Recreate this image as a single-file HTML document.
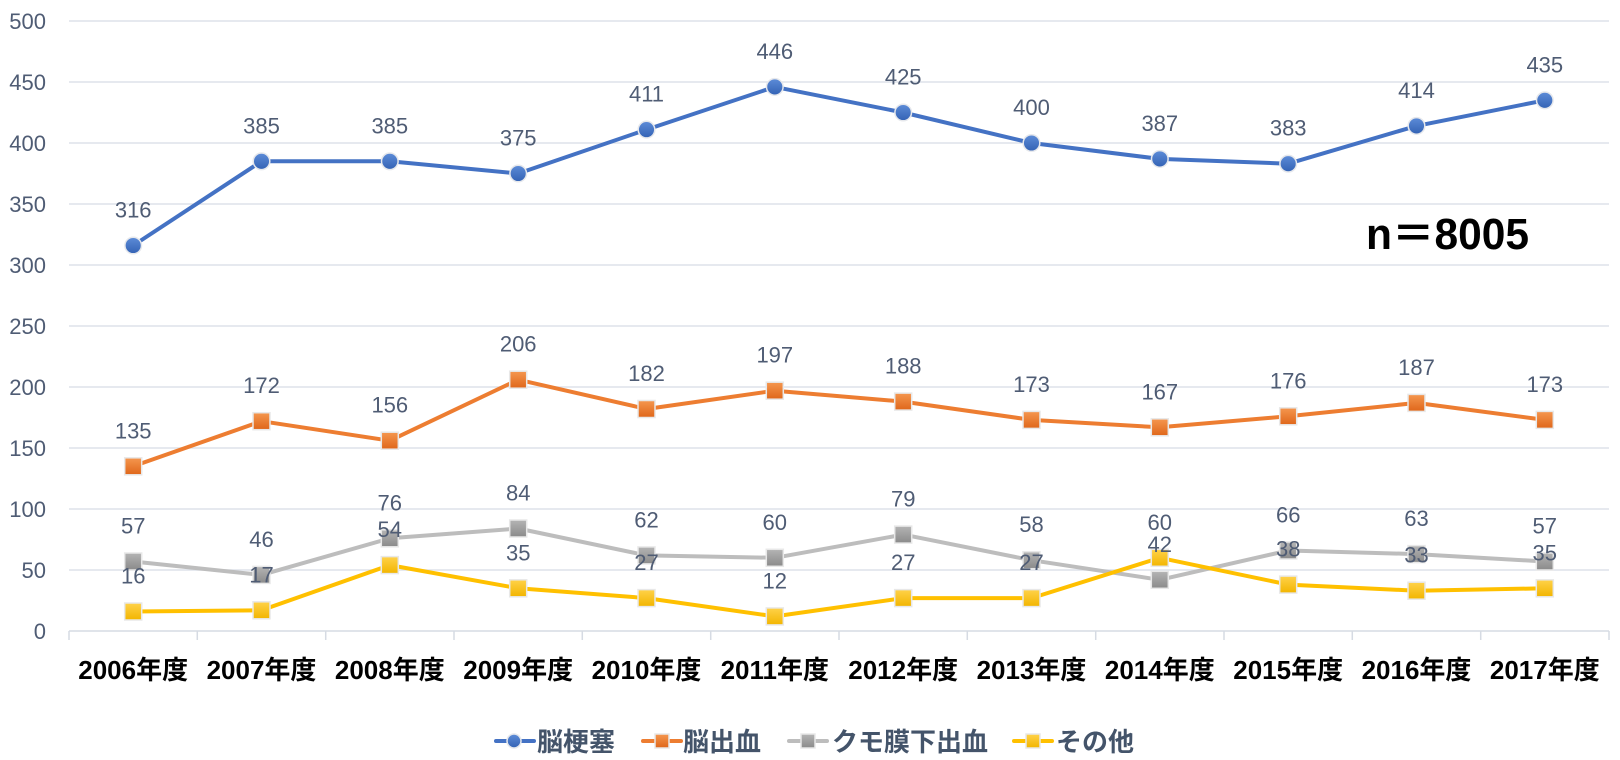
<!DOCTYPE html>
<html>
<head>
<meta charset="utf-8">
<style>
  html,body{margin:0;padding:0;background:#fff;}
  svg{display:block;}
  .yl{font-family:"Liberation Sans","Noto Sans CJK JP",sans-serif;font-size:22px;fill:#4f5c74;}
  .dl{font-family:"Liberation Sans","Noto Sans CJK JP",sans-serif;font-size:22px;fill:#4f5c74;text-anchor:middle;}
  .xl{font-family:"Liberation Sans","Noto Sans CJK JP",sans-serif;font-size:26px;font-weight:bold;fill:#000;text-anchor:middle;}
  .lg{font-family:"Liberation Sans","Noto Sans CJK JP",sans-serif;font-size:26px;font-weight:bold;fill:#44546a;}
  .nn{font-family:"Liberation Sans","Noto Sans CJK JP",sans-serif;font-size:44px;font-weight:bold;fill:#000;}
</style>
</head>
<body>
<svg width="1620" height="760" viewBox="0 0 1620 760" xmlns="http://www.w3.org/2000/svg">
  <defs>
    <linearGradient id="gb" x1="0" y1="0" x2="0" y2="1"><stop offset="0" stop-color="#5d8cd8"/><stop offset="1" stop-color="#3362b4"/></linearGradient>
    <linearGradient id="go" x1="0" y1="0" x2="0" y2="1"><stop offset="0" stop-color="#f5974f"/><stop offset="1" stop-color="#df661a"/></linearGradient>
    <linearGradient id="gg" x1="0" y1="0" x2="0" y2="1"><stop offset="0" stop-color="#b4b4b4"/><stop offset="1" stop-color="#8a8a8a"/></linearGradient>
    <linearGradient id="gy" x1="0" y1="0" x2="0" y2="1"><stop offset="0" stop-color="#ffd24a"/><stop offset="1" stop-color="#f2b500"/></linearGradient>
  </defs>

  <!-- gridlines -->
  <g stroke="#dde2ea" stroke-width="1.5">
    <line x1="69" y1="21" x2="1609" y2="21"/>
    <line x1="69" y1="82" x2="1609" y2="82"/>
    <line x1="69" y1="143" x2="1609" y2="143"/>
    <line x1="69" y1="204" x2="1609" y2="204"/>
    <line x1="69" y1="265" x2="1609" y2="265"/>
    <line x1="69" y1="326" x2="1609" y2="326"/>
    <line x1="69" y1="387" x2="1609" y2="387"/>
    <line x1="69" y1="448" x2="1609" y2="448"/>
    <line x1="69" y1="509" x2="1609" y2="509"/>
    <line x1="69" y1="570" x2="1609" y2="570"/>
  </g>
  <!-- x axis -->
  <g stroke="#d6dbe3" stroke-width="1.5">
    <line x1="69" y1="631" x2="1609" y2="631"/>
    <line x1="69" y1="631" x2="69" y2="640"/>
    <line x1="197.3" y1="631" x2="197.3" y2="640"/>
    <line x1="325.7" y1="631" x2="325.7" y2="640"/>
    <line x1="454" y1="631" x2="454" y2="640"/>
    <line x1="582.3" y1="631" x2="582.3" y2="640"/>
    <line x1="710.7" y1="631" x2="710.7" y2="640"/>
    <line x1="839" y1="631" x2="839" y2="640"/>
    <line x1="967.3" y1="631" x2="967.3" y2="640"/>
    <line x1="1095.7" y1="631" x2="1095.7" y2="640"/>
    <line x1="1224" y1="631" x2="1224" y2="640"/>
    <line x1="1352.3" y1="631" x2="1352.3" y2="640"/>
    <line x1="1480.7" y1="631" x2="1480.7" y2="640"/>
    <line x1="1609" y1="631" x2="1609" y2="640"/>
  </g>

  <!-- y labels -->
  <g class="yl" text-anchor="end">
    <text x="46" y="29">500</text>
    <text x="46" y="90">450</text>
    <text x="46" y="151">400</text>
    <text x="46" y="212">350</text>
    <text x="46" y="273">300</text>
    <text x="46" y="334">250</text>
    <text x="46" y="395">200</text>
    <text x="46" y="456">150</text>
    <text x="46" y="517">100</text>
    <text x="46" y="578">50</text>
    <text x="46" y="639">0</text>
  </g>

  <!-- x labels -->
  <g class="xl">
    <text x="133.2" y="679">2006年度</text>
    <text x="261.5" y="679">2007年度</text>
    <text x="389.8" y="679">2008年度</text>
    <text x="518.2" y="679">2009年度</text>
    <text x="646.5" y="679">2010年度</text>
    <text x="774.8" y="679">2011年度</text>
    <text x="903.2" y="679">2012年度</text>
    <text x="1031.5" y="679">2013年度</text>
    <text x="1159.8" y="679">2014年度</text>
    <text x="1288.2" y="679">2015年度</text>
    <text x="1416.5" y="679">2016年度</text>
    <text x="1544.8" y="679">2017年度</text>
  </g>

  <!-- blue series -->
  <polyline fill="none" stroke="#4472c4" stroke-width="4" stroke-linejoin="round" stroke-linecap="round"
    points="133.2,245.5 261.5,161.3 389.8,161.3 518.2,173.5 646.5,129.6 774.8,86.9 903.2,112.5 1031.5,143 1159.8,158.9 1288.2,163.7 1416.5,125.9 1544.8,100.3"/>
  <g fill="url(#gb)" stroke="#e6e8ec" stroke-width="1.5">
    <circle cx="133.2" cy="245.5" r="8.3"/>
    <circle cx="261.5" cy="161.3" r="8.3"/>
    <circle cx="389.8" cy="161.3" r="8.3"/>
    <circle cx="518.2" cy="173.5" r="8.3"/>
    <circle cx="646.5" cy="129.6" r="8.3"/>
    <circle cx="774.8" cy="86.9" r="8.3"/>
    <circle cx="903.2" cy="112.5" r="8.3"/>
    <circle cx="1031.5" cy="143" r="8.3"/>
    <circle cx="1159.8" cy="158.9" r="8.3"/>
    <circle cx="1288.2" cy="163.7" r="8.3"/>
    <circle cx="1416.5" cy="125.9" r="8.3"/>
    <circle cx="1544.8" cy="100.3" r="8.3"/>
  </g>

  <!-- orange series -->
  <polyline fill="none" stroke="#ed7d31" stroke-width="4" stroke-linejoin="round" stroke-linecap="round"
    points="133.2,466.3 261.5,421.2 389.8,440.7 518.2,379.7 646.5,409 774.8,390.7 903.2,401.6 1031.5,419.9 1159.8,427.3 1288.2,416.3 1416.5,402.9 1544.8,419.9"/>
  <g fill="url(#go)" stroke="#e8e8e8" stroke-width="1.5">
    <rect x="124.7" y="457.8" width="17" height="17"/>
    <rect x="253" y="412.7" width="17" height="17"/>
    <rect x="381.3" y="432.2" width="17" height="17"/>
    <rect x="509.7" y="371.2" width="17" height="17"/>
    <rect x="638" y="400.5" width="17" height="17"/>
    <rect x="766.3" y="382.2" width="17" height="17"/>
    <rect x="894.7" y="393.1" width="17" height="17"/>
    <rect x="1023" y="411.4" width="17" height="17"/>
    <rect x="1151.3" y="418.8" width="17" height="17"/>
    <rect x="1279.7" y="407.8" width="17" height="17"/>
    <rect x="1408" y="394.4" width="17" height="17"/>
    <rect x="1536.3" y="411.4" width="17" height="17"/>
  </g>

  <!-- gray series -->
  <polyline fill="none" stroke="#bdbdbd" stroke-width="4" stroke-linejoin="round" stroke-linecap="round"
    points="133.2,561.5 261.5,574.9 389.8,538.3 518.2,528.5 646.5,555.4 774.8,557.8 903.2,534.6 1031.5,560.2 1159.8,579.8 1288.2,550.5 1416.5,554.1 1544.8,561.5"/>
  <g fill="url(#gg)" stroke="#e8e8e8" stroke-width="1.5">
    <rect x="124.7" y="553" width="17" height="17"/>
    <rect x="253" y="566.4" width="17" height="17"/>
    <rect x="381.3" y="529.8" width="17" height="17"/>
    <rect x="509.7" y="520" width="17" height="17"/>
    <rect x="638" y="546.9" width="17" height="17"/>
    <rect x="766.3" y="549.3" width="17" height="17"/>
    <rect x="894.7" y="526.1" width="17" height="17"/>
    <rect x="1023" y="551.7" width="17" height="17"/>
    <rect x="1151.3" y="571.3" width="17" height="17"/>
    <rect x="1279.7" y="542" width="17" height="17"/>
    <rect x="1408" y="545.6" width="17" height="17"/>
    <rect x="1536.3" y="553" width="17" height="17"/>
  </g>

  <!-- yellow series -->
  <polyline fill="none" stroke="#ffc000" stroke-width="4" stroke-linejoin="round" stroke-linecap="round"
    points="133.2,611.5 261.5,610.3 389.8,565.1 518.2,588.3 646.5,598.1 774.8,616.4 903.2,598.1 1031.5,598.1 1159.8,557.8 1288.2,584.6 1416.5,590.7 1544.8,588.3"/>
  <g fill="url(#gy)" stroke="#e8e8e8" stroke-width="1.5">
    <rect x="124.7" y="603" width="17" height="17"/>
    <rect x="253" y="601.8" width="17" height="17"/>
    <rect x="381.3" y="556.6" width="17" height="17"/>
    <rect x="509.7" y="579.8" width="17" height="17"/>
    <rect x="638" y="589.6" width="17" height="17"/>
    <rect x="766.3" y="607.9" width="17" height="17"/>
    <rect x="894.7" y="589.6" width="17" height="17"/>
    <rect x="1023" y="589.6" width="17" height="17"/>
    <rect x="1151.3" y="549.3" width="17" height="17"/>
    <rect x="1279.7" y="576.1" width="17" height="17"/>
    <rect x="1408" y="582.2" width="17" height="17"/>
    <rect x="1536.3" y="579.8" width="17" height="17"/>
  </g>

  <!-- data labels -->
  <g class="dl">
    <text x="133.2" y="217.5">316</text>
    <text x="261.5" y="133.3">385</text>
    <text x="389.8" y="133.3">385</text>
    <text x="518.2" y="145.5">375</text>
    <text x="646.5" y="101.6">411</text>
    <text x="774.8" y="58.9">446</text>
    <text x="903.2" y="84.5">425</text>
    <text x="1031.5" y="115">400</text>
    <text x="1159.8" y="130.9">387</text>
    <text x="1288.2" y="135.7">383</text>
    <text x="1416.5" y="97.9">414</text>
    <text x="1544.8" y="72.3">435</text>
    <text x="133.2" y="438.3">135</text>
    <text x="261.5" y="393.2">172</text>
    <text x="389.8" y="412.7">156</text>
    <text x="518.2" y="351.7">206</text>
    <text x="646.5" y="381">182</text>
    <text x="774.8" y="362.7">197</text>
    <text x="903.2" y="373.6">188</text>
    <text x="1031.5" y="391.9">173</text>
    <text x="1159.8" y="399.3">167</text>
    <text x="1288.2" y="388.3">176</text>
    <text x="1416.5" y="374.9">187</text>
    <text x="1544.8" y="391.9">173</text>
    <text x="133.2" y="533.5">57</text>
    <text x="261.5" y="546.9">46</text>
    <text x="389.8" y="510.3">76</text>
    <text x="518.2" y="500.5">84</text>
    <text x="646.5" y="527.4">62</text>
    <text x="774.8" y="529.8">60</text>
    <text x="903.2" y="506.6">79</text>
    <text x="1031.5" y="532.2">58</text>
    <text x="1159.8" y="551.8">42</text>
    <text x="1288.2" y="522.5">66</text>
    <text x="1416.5" y="526.1">63</text>
    <text x="1544.8" y="533.5">57</text>
    <text x="133.2" y="583.5">16</text>
    <text x="261.5" y="582.3">17</text>
    <text x="389.8" y="537.1">54</text>
    <text x="518.2" y="560.3">35</text>
    <text x="646.5" y="570.1">27</text>
    <text x="774.8" y="588.4">12</text>
    <text x="903.2" y="570.1">27</text>
    <text x="1031.5" y="570.1">27</text>
    <text x="1159.8" y="529.8">60</text>
    <text x="1288.2" y="556.6">38</text>
    <text x="1416.5" y="562.7">33</text>
    <text x="1544.8" y="560.3">35</text>
  </g>

  <!-- n=8005 -->
  <text class="nn" x="1366" y="249" textLength="163" lengthAdjust="spacingAndGlyphs">n＝8005</text>

  <!-- legend -->
  <g stroke-width="4" stroke-linecap="round">
    <line x1="496" y1="741" x2="534" y2="741" stroke="#4472c4"/>
    <line x1="643" y1="741" x2="681" y2="741" stroke="#ed7d31"/>
    <line x1="789" y1="741" x2="827" y2="741" stroke="#bdbdbd"/>
    <line x1="1014" y1="741" x2="1052" y2="741" stroke="#ffc000"/>
  </g>
  <circle cx="514" cy="741" r="7" fill="url(#gb)" stroke="#e6e8ec" stroke-width="1.5"/>
  <rect x="655" y="734" width="14" height="14" fill="url(#go)" stroke="#e8e8e8" stroke-width="1.5"/>
  <rect x="801" y="734" width="14" height="14" fill="url(#gg)" stroke="#e8e8e8" stroke-width="1.5"/>
  <rect x="1026" y="734" width="14" height="14" fill="url(#gy)" stroke="#e8e8e8" stroke-width="1.5"/>
  <g class="lg">
    <text x="537" y="751">脳梗塞</text>
    <text x="683" y="751">脳出血</text>
    <text x="832" y="751">クモ膜下出血</text>
    <text x="1056" y="751">その他</text>
  </g>
</svg>
</body>
</html>
